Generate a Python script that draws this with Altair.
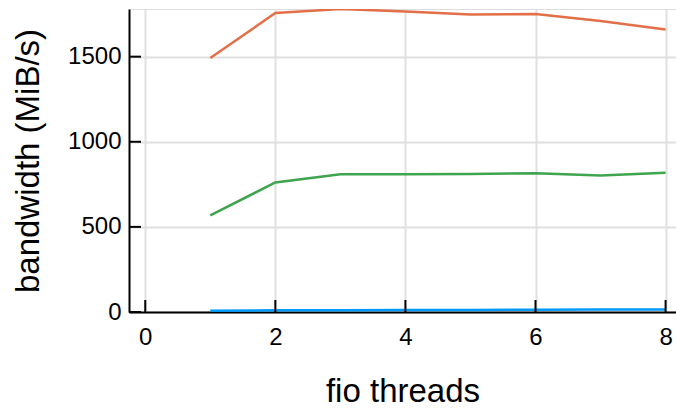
import altair as alt
import pandas as pd

# fio throughput per thread count, three configurations
threads = [1, 2, 3, 4, 5, 6, 7, 8]
series_a = [8, 10, 11, 12, 12, 13, 14, 15]
series_b = [1492, 1756, 1780, 1766, 1747, 1751, 1709, 1659]
series_c = [568, 761, 809, 809, 811, 815, 802, 818]

series_names = ["y1", "y2", "y3"]
series_colors = ["#009AFA", "#E36F47", "#3EA44E"]

x_ticks = [0, 2, 4, 6, 8]
y_ticks = [0, 500, 1000, 1500]

W, H = 547, 303
FONT = "Liberation Sans"

rows = []
for name, vals in zip(series_names, [series_a, series_b, series_c]):
    for t, v in zip(threads, vals):
        rows.append({"threads": t, "bw": v, "series": name})
df = pd.DataFrame(rows)

x_scale = alt.Scale(domain=[-0.25, 8.16], nice=False, zero=False)
y_scale = alt.Scale(domain=[0, 1780], nice=False)

axis_style = dict(
    ticks=False, labelFontSize=24, labelFont=FONT, labelColor="black",
    labelFlush=False, labelOverlap=False, format="d",
    titleFont=FONT, titleFontSize=33, titleFontWeight="normal", titleColor="black",
    domainColor="black", domainWidth=2, gridColor="#e0e0e0", gridWidth=2,
)

lines = alt.Chart(df).mark_line(strokeWidth=2.5, clip=True).encode(
    x=alt.X("threads:Q", scale=x_scale,
            axis=alt.Axis(values=x_ticks, title="fio threads", labelPadding=13,
                          titlePadding=26, **axis_style)),
    y=alt.Y("bw:Q", scale=y_scale,
            axis=alt.Axis(values=y_ticks, title="bandwidth (MiB/s)", labelPadding=8,
                          titlePadding=22, **axis_style)),
    color=alt.Color("series:N", scale=alt.Scale(domain=series_names, range=series_colors),
                    legend=None),
    detail="series:N",
)

# inward tick marks along both axes
xt = alt.Chart(pd.DataFrame({"v": x_ticks})).mark_rule(color="black", strokeWidth=2).encode(
    x=alt.X("v:Q", scale=x_scale), y=alt.value(H), y2=alt.value(H - 12))
yt = alt.Chart(pd.DataFrame({"v": y_ticks})).mark_rule(color="black", strokeWidth=2).encode(
    y=alt.Y("v:Q", scale=y_scale), x=alt.value(0), x2=alt.value(12))

chart = alt.layer(lines, xt, yt).properties(
    width=W, height=H,
    autosize=alt.AutoSizeParams(type="none"),
    padding={"left": 129, "top": 9, "right": 0, "bottom": 98},
).configure_view(stroke=None).configure(background="white")

chart.save("out.html", embed_options={"renderer": "svg", "actions": False})
